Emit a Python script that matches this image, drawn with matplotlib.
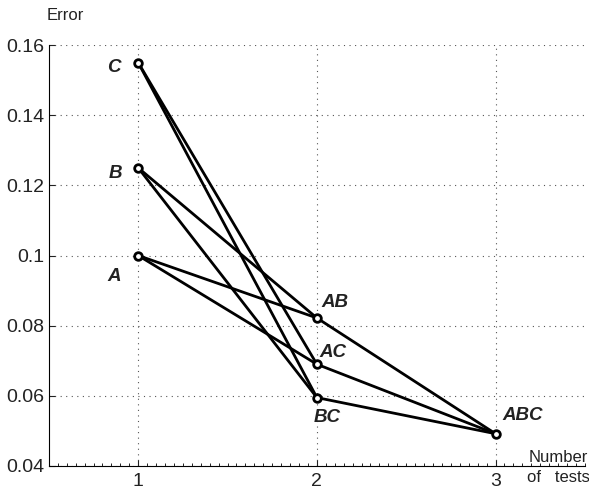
import matplotlib
matplotlib.use("Agg")
import matplotlib.pyplot as plt
from matplotlib.ticker import MultipleLocator

plt.rcParams['font.family'] = ['Liberation Sans', 'DejaVu Sans']

names = ['A', 'B', 'C', 'AB', 'AC', 'BC', 'ABC']
x_vals = [1, 1, 1, 2, 2, 2, 3]
y_vals = [0.100, 0.125, 0.155, 0.0822, 0.0690, 0.0595, 0.0492]
edges = [('A', 'AB'), ('A', 'AC'), ('B', 'AB'), ('B', 'BC'), ('C', 'AC'), ('C', 'BC'),
         ('AB', 'ABC'), ('AC', 'ABC'), ('BC', 'ABC')]
label_offsets = {'A': (-0.135, -0.006), 'B': (-0.13, -0.0015), 'C': (-0.135, -0.0013),
                 'AB': (0.1, 0.0045), 'AC': (0.09, 0.0033), 'BC': (0.06, -0.0058),
                 'ABC': (0.15, 0.0052)}
xticks = [1, 2, 3]
yticks = [0.04, 0.06, 0.08, 0.1, 0.12, 0.14, 0.16]
ytick_labels = ['0.04', '0.06', '0.08', '0.1', '0.12', '0.14', '0.16']

fig = plt.figure(figsize=(5.89, 4.90), dpi=100)
ax = fig.add_axes([0.083, 0.049, 0.91, 0.859])
pos = {n: (x, y) for n, x, y in zip(names, x_vals, y_vals)}
for a, b in edges:
    ax.plot([pos[a][0], pos[b][0]], [pos[a][1], pos[b][1]], color='black', lw=2,
            solid_capstyle='round', zorder=3)
ax.plot(x_vals, y_vals, 'o', ms=5.5, mfc='white', mec='black', mew=2, zorder=4)
for n in names:
    dx, dy = label_offsets[n]
    ax.text(pos[n][0] + dx, pos[n][1] + dy, n, fontsize=13.5, fontweight='bold',
            fontstyle='italic', ha='center', va='center', color='#222222')

ax.set_xlim(0.5, 3.5)
ax.set_ylim(0.04, 0.16)
ax.set_xticks(xticks)
ax.set_xticklabels([str(t) for t in xticks])
ax.set_yticks(yticks)
ax.set_yticklabels(ytick_labels)
ax.xaxis.set_minor_locator(MultipleLocator(0.05))
ax.tick_params(axis='both', which='major', direction='in', length=4, labelsize=14,
               width=0.8, colors='#222222')
ax.tick_params(axis='x', which='minor', direction='in', length=2, width=0.6)
ax.tick_params(axis='x', pad=5)
ax.tick_params(axis='y', pad=3)
ax.grid(True, which='major', linestyle=(0, (1, 4)), color='#555555', lw=0.8)
for s in ['top', 'right']:
    ax.spines[s].set_visible(False)
ax.spines['left'].set_linewidth(0.8)
ax.spines['bottom'].set_linewidth(0.8)

fig.text(65 / 589, 1 - 15 / 490, 'Error', ha='center', va='center', fontsize=12,
         color='#222222')
fig.text(558 / 589, 1 - 457 / 490, 'Number', ha='center', va='center', fontsize=12,
         color='#222222')
fig.text(558 / 589, 1 - 477 / 490, 'of   tests', ha='center', va='center', fontsize=12,
         color='#222222')

fig.savefig('out.png', dpi=100)
